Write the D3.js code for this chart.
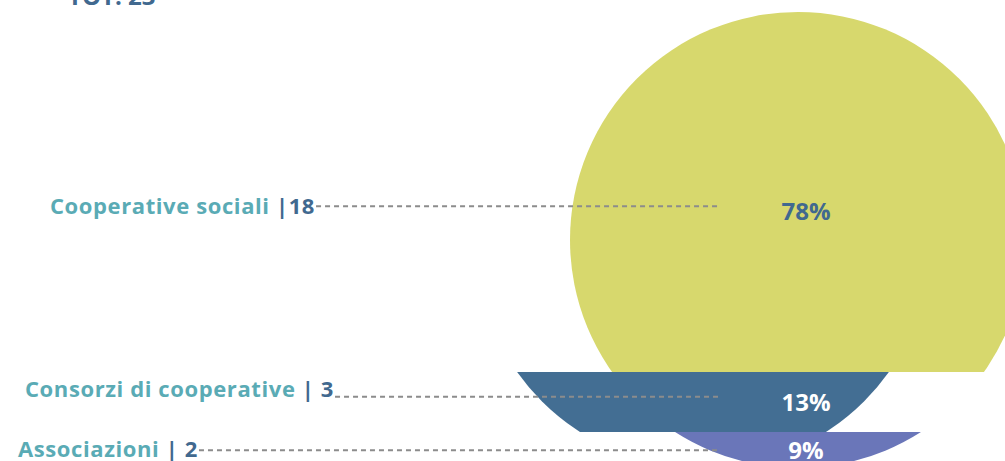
<!DOCTYPE html>
<html>
<head>
<meta charset="utf-8">
<script src="https://cdn.jsdelivr.net/npm/d3@7"></script>
<style>
  html, body { margin: 0; padding: 0; background: #ffffff; }
  svg { display: block; }
  text { font-family: "Open Sans", Lato, sans-serif; font-weight: 700; }
</style>
</head>
<body>
<svg id="chart" width="1005" height="461"></svg>
<script>
// ---- data ----
const categories = ["Cooperative sociali", "Consorzi di cooperative", "Associazioni"];
const counts = [18, 3, 2];
const countLabels = ["|18", "| 3", "| 2"];
const percentLabels = ["78%", "13%", "9%"];
const totalLabel = "TOT. 23";

// ---- styles ----
const bandColors = ["#d7d86d", "#436e93", "#6a76b9"];
const percentColors = ["#41698f", "#ffffff", "#ffffff"];
const labelColor = "#5aabb5";
const numColor = "#41698f";

const W = 1005, H = 461;
const svg = d3.select("#chart");

const cx = 798, cy = 240, r = 228;
const shifts = [0, -95, 0];
const labelX = [50, 25, 18];
const lineEndX = 718;

const total = d3.sum(counts);
const cum = [0];
counts.forEach((c, i) => cum.push(cum[i] + c));
const y = d3.scaleLinear().domain([0, total]).range([12, 472]);

const defs = svg.append("defs");
counts.forEach((c, i) => {
  const y0 = y(cum[i]);
  const y1 = i === counts.length - 1 ? H + 20 : y(cum[i + 1]);
  defs.append("clipPath").attr("id", "band" + i)
    .append("rect").attr("x", 0).attr("y", y0).attr("width", W).attr("height", y1 - y0);
});

// bands
counts.forEach((c, i) => {
  svg.append("circle")
    .attr("cx", cx + shifts[i]).attr("cy", cy).attr("r", r)
    .attr("fill", bandColors[i])
    .attr("clip-path", "url(#band" + i + ")");
});

// anchor y per band (approximate centroid of visible band)
function bandAnchor(i) {
  const y0 = y(cum[i]), y1 = Math.min(y(cum[i + 1]), cy + r);
  let a = 0, m = 0;
  for (let yy = y0; yy < y1; yy += 0.5) {
    const dy = yy - cy;
    const w = Math.max(0, 2 * Math.sqrt(Math.max(0, r * r - dy * dy)));
    a += w; m += w * yy;
  }
  return m / a;
}
const anchors = counts.map((c, i) => bandAnchor(i));
const lineY = [anchors[0] - 3, anchors[1] - 3, anchors[2] + 4];
const labelDy = [8, 0, 7];
const pctDy = [14, 14, 9];

// labels + dashed leader lines
categories.forEach((cat, i) => {
  const t = svg.append("text")
    .attr("x", labelX[i]).attr("y", lineY[i] + labelDy[i])
    .attr("font-size", 22)
    .attr("letter-spacing", 0.6);
  t.append("tspan").attr("fill", labelColor).text(cat + " ");
  t.append("tspan").attr("fill", numColor).text(countLabels[i]);
  const len = t.node().getComputedTextLength();
  svg.append("line")
    .attr("x1", labelX[i] + len + 1).attr("x2", lineEndX)
    .attr("y1", lineY[i]).attr("y2", lineY[i])
    .attr("stroke", "#8c8c8c").attr("stroke-width", 2)
    .attr("stroke-dasharray", "5,4");
});

// percentages
percentLabels.forEach((p, i) => {
  svg.append("text")
    .attr("x", cx + 8).attr("y", lineY[i] + pctDy[i])
    .attr("text-anchor", "middle")
    .attr("font-size", 24)
    .attr("fill", percentColors[i])
    .text(p);
});

// total (cut off at top)
svg.append("text")
  .attr("x", 68).attr("y", 5)
  .attr("font-size", 24)
  .attr("fill", numColor)
  .text(totalLabel);
</script>
</body>
</html>
